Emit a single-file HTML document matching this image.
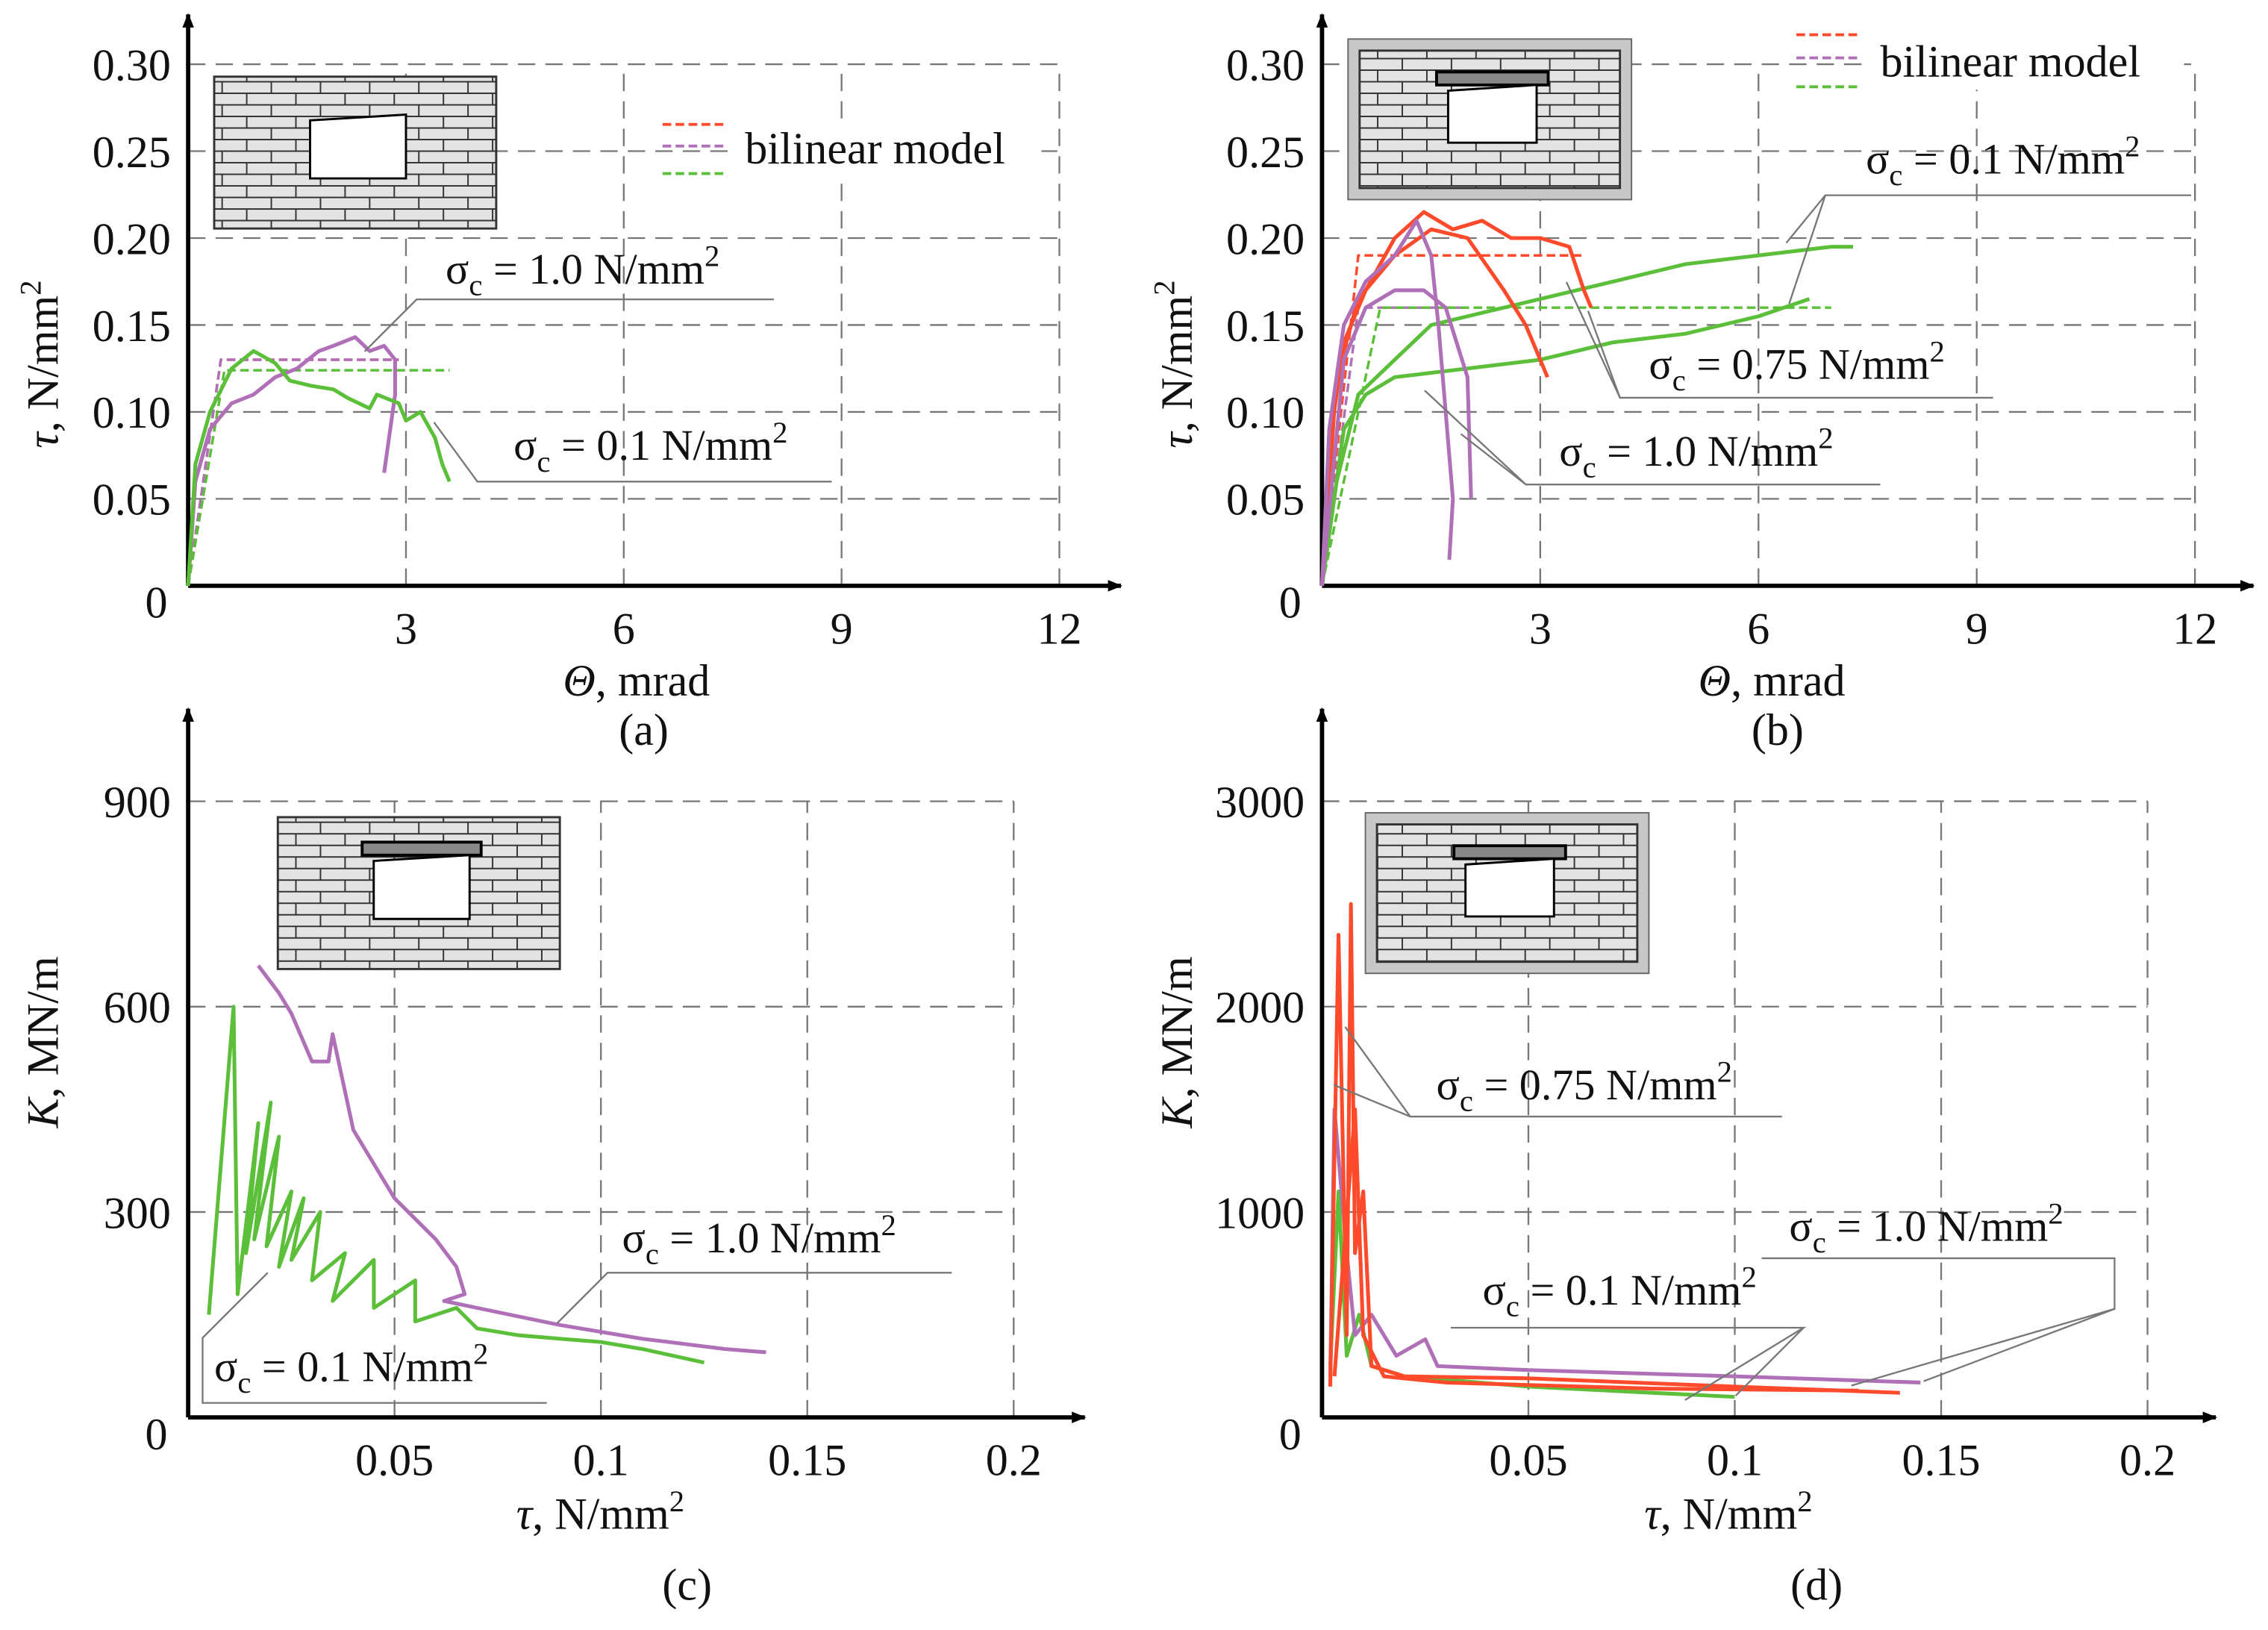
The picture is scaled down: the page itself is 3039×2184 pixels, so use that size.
<!DOCTYPE html>
<html><head><meta charset="utf-8"><style>
html,body{margin:0;padding:0;background:#fff}
svg{display:block}
text{font-family:"Liberation Serif",serif;fill:#111}
</style></head><body>
<svg id="fig" width="3039" height="2184" viewBox="0 0 1568 1127" xmlns="http://www.w3.org/2000/svg">
<defs>
<marker id="arr" viewBox="0 0 10 10" refX="9" refY="5" markerWidth="10" markerHeight="10" markerUnits="userSpaceOnUse" orient="auto"><path d="M0,1 L10,5 L0,9 Z" fill="#000"/></marker>
<pattern id="brick" width="34" height="16" patternUnits="userSpaceOnUse">
<rect width="34" height="16" fill="#e3e3e3"/>
<path d="M0,0.5H34M0,8.5H34M0.5,0V8M17.5,8V16" stroke="#333" stroke-width="1" fill="none"/>
</pattern>
</defs>
<g id="layer"></g>
</svg>
<script>
// ---------- data ----------
const aTicksX=[3,6,9,12];
const aTicksY=[0.05,0.10,0.15,0.20,0.25,0.30];
const aTickLabelsY=["0.05","0.10","0.15","0.20","0.25","0.30"];
const aPurple=[[0,0],[0.1,0.06],[0.3,0.09],[0.6,0.105],[0.9,0.11],[1.2,0.12],[1.5,0.125],[1.8,0.135],[2.0,0.138],[2.3,0.143],[2.5,0.135],[2.7,0.138],[2.85,0.13],[2.85,0.11],[2.7,0.065]];
const aGreen=[[0,0],[0.1,0.07],[0.3,0.1],[0.6,0.125],[0.9,0.135],[1.2,0.128],[1.4,0.118],[1.7,0.115],[2.0,0.113],[2.2,0.108],[2.5,0.102],[2.6,0.11],[2.9,0.105],[3.0,0.095],[3.2,0.1],[3.4,0.085],[3.5,0.07],[3.6,0.06]];
const aBiRed=[[0,0],[0.45,0.13],[2.9,0.13]];
const aBiPurple=[[0,0],[0.45,0.13],[2.9,0.13]];
const aBiGreen=[[0,0],[0.5,0.124],[3.6,0.124]];

const bRed1=[[0,0],[0.1,0.08],[0.3,0.14],[0.6,0.17],[1.0,0.2],[1.4,0.215],[1.8,0.205],[2.2,0.21],[2.6,0.2],[3.0,0.2],[3.4,0.195],[3.6,0.17],[3.7,0.16]];
const bRed2=[[0,0],[0.2,0.12],[0.5,0.165],[1.0,0.19],[1.5,0.205],[2.0,0.2],[2.5,0.17],[2.8,0.15],[3.0,0.13],[3.1,0.12]];
const bPurple1=[[0,0],[0.1,0.09],[0.3,0.15],[0.6,0.175],[1.0,0.19],[1.3,0.21],[1.5,0.19],[1.6,0.15],[1.7,0.1],[1.8,0.05],[1.75,0.015]];
const bPurple2=[[0,0],[0.3,0.13],[0.6,0.16],[1.0,0.17],[1.4,0.17],[1.7,0.16],[2.0,0.12],[2.05,0.05]];
const bGreen1=[[0,0],[0.2,0.06],[0.5,0.11],[1.0,0.13],[1.5,0.15],[2.0,0.155],[3,0.165],[4,0.175],[5,0.185],[6,0.19],[7,0.195],[7.3,0.195]];
const bGreen2=[[0,0],[0.3,0.09],[0.6,0.11],[1.0,0.12],[2,0.125],[3,0.13],[4,0.14],[5,0.145],[6,0.155],[6.7,0.165]];
const bBiRed=[[0,0],[0.5,0.19],[3.6,0.19]];
const bBiPurple=[[0,0],[0.5,0.16],[2.0,0.16]];
const bBiGreen=[[0,0],[0.8,0.16],[7,0.16]];

const cTicksX=[0.05,0.1,0.15,0.2];
const cTickLabelsX=["0.05","0.1","0.15","0.2"];
const cTicksY=[300,600,900];
const cPurple=[[0.017,660],[0.022,620],[0.025,590],[0.03,520],[0.034,520],[0.035,560],[0.04,420],[0.05,320],[0.06,260],[0.065,220],[0.067,180],[0.062,170],[0.07,160],[0.09,135],[0.11,115],[0.13,100],[0.14,95]];
const cGreen=[[0.005,150],[0.011,600],[0.012,180],[0.017,430],[0.014,240],[0.02,460],[0.016,260],[0.022,410],[0.019,250],[0.025,330],[0.022,220],[0.028,320],[0.025,230],[0.032,300],[0.03,200],[0.038,240],[0.035,170],[0.045,230],[0.045,160],[0.055,200],[0.055,140],[0.065,160],[0.07,130],[0.08,120],[0.09,115],[0.1,110],[0.11,100],[0.125,80]];

const dTicksY=[1000,2000,3000];
const dRed1=[[0.002,150],[0.004,2350],[0.006,400],[0.007,2500],[0.008,800],[0.01,1100],[0.012,250],[0.02,200],[0.05,190],[0.1,150],[0.14,120]];
const dRed2=[[0.003,200],[0.008,1500],[0.01,400],[0.015,200],[0.03,170],[0.08,140],[0.13,130]];
const dPurple=[[0.002,200],[0.003,1500],[0.006,800],[0.008,400],[0.012,500],[0.018,300],[0.025,380],[0.028,250],[0.05,230],[0.1,200],[0.145,170]];
const dGreen=[[0.002,250],[0.004,1100],[0.006,300],[0.009,500],[0.012,250],[0.02,200],[0.05,150],[0.08,120],[0.1,100]];

// ---------- drawing ----------
const NS="http://www.w3.org/2000/svg";
const L=document.getElementById('layer');
function el(tag,attrs,parent){const e=document.createElementNS(NS,tag);for(const k in attrs)e.setAttribute(k,attrs[k]);(parent||L).appendChild(e);return e;}
function txt(x,y,s,size,anchor,name){const t=el('text',{x:x,y:y,'font-size':size,'text-anchor':anchor||'middle'});t.textContent=s;


return t;}
const RED="#ff4b2b",PUR="#b070b8",GRN="#5bbf3a";

function panel(o){
 const sx=v=>o.x0+(v-o.xmin)*o.pxX, sy=v=>o.y0-v*o.pxY;
 const g=el('g',{});
 
 
 o.xt.forEach(v=>{const l=el('line',{x1:sx(v),x2:sx(v),y1:o.y0,y2:sy(o.yt[o.yt.length-1]),stroke:'#777','stroke-width':1.2,'stroke-dasharray':'12,7'},g);
  });
 o.yt.forEach(v=>{const l=el('line',{x1:o.x0,x2:sx(o.xt[o.xt.length-1]),y1:sy(v),y2:sy(v),stroke:'#777','stroke-width':1.2,'stroke-dasharray':'12,7'},g);
  });
 const xa=el('line',{x1:o.x0,y1:o.y0,x2:o.xEnd,y2:o.y0,stroke:'#000','stroke-width':3,'marker-end':'url(#arr)'},g);
 
 const ya=el('line',{x1:o.x0,y1:o.y0,x2:o.x0,y2:o.yTop,stroke:'#000','stroke-width':3,'marker-end':'url(#arr)'},g);
 
 o.xt.forEach((v,i)=>txt(sx(v),o.y0+40,o.xl[i],31,'middle','x-tick-label'));
 o.yt.forEach((v,i)=>txt(o.x0-12,sy(v)+11,o.yl[i],31,'end','y-tick-label'));
 txt(o.x0-22,o.y0+22,'0',31,'middle','y-tick-label');
 return {sx,sy,g};
}
function series(P,pts,color,dashed,name){
 const d=pts.map((p,i)=>(i?'L':'M')+P.sx(p[0]).toFixed(1)+','+P.sy(p[1]).toFixed(1)).join(' ');
 const p=el('path',{d:d,fill:'none',stroke:color,'stroke-width':dashed?1.8:2.6,'stroke-dasharray':dashed?'6,3':'none','stroke-linejoin':'round'},P.g);
 
 
}
function wall(x,y,w,h,lintel,frame,name){
 const g=el('g',{});
 
 
 if(frame) el('rect',{x:x-8,y:y-8,width:w+16,height:h+16,fill:'#c8c8c8',stroke:'#666'},g);
 el('rect',{x:x,y:y,width:w,height:h,fill:'url(#brick)',stroke:'#333','stroke-width':1.5},g);
 const ox=x+w*0.34,oy=y+h*0.25,ow=w*0.34,oh=h*0.42;
 if(lintel) el('rect',{x:ox-8,y:oy-9,width:ow+16,height:9,fill:'#888',stroke:'#000','stroke-width':2},g);
 el('path',{d:`M${ox},${oy+4} L${ox+ow},${oy} L${ox+ow},${oy+oh} L${ox},${oy+oh} Z`,fill:'#fff',stroke:'#000','stroke-width':1.5},g);
}
function leader(pts){const p=el('polyline',{points:pts.map(q=>q.join(',')).join(' '),fill:'none',stroke:'#777','stroke-width':1.2});
 }
function sig(x,y,val,name){
 const t=el('text',{x:x,y:y,'font-size':30});
 
 
 t.innerHTML='σ<tspan font-size="21" dy="8">c</tspan><tspan dy="-8"> = '+val+' N/mm</tspan><tspan font-size="21" dy="-12">2</tspan>';
}
function legendBg(x,y,w,h){const r=el('rect',{x:x,y:y,width:w,height:h,fill:'#fff'});}

// Panel a
const A=panel({name:'panel-a',x0:130,y0:405,xmin:0,pxX:50.2,pxY:1202,xt:aTicksX,xl:aTicksX.map(String),yt:aTicksY,yl:aTickLabelsY,xEnd:775,yTop:10});
wall(148,53,195,105,false,false,'wall-icon-a');
series(A,aBiRed,RED,true,'bilinear-red-a');series(A,aBiPurple,PUR,true,'bilinear-purple-a');series(A,aBiGreen,GRN,true,'bilinear-green-a');
series(A,aPurple,PUR,false,'series-sigma-1.0-a');series(A,aGreen,GRN,false,'series-sigma-0.1-a');
legendBg(505,82,215,40);
[[RED,86],[PUR,101],[GRN,120]].forEach(c=>{const l=el('line',{x1:458,x2:502,y1:c[1],y2:c[1],stroke:c[0],'stroke-width':2,'stroke-dasharray':'6,3'});});
txt(515,113,'bilinear model',31,'start','legend-label');
sig(308,196,'1.0','annotation-sigma-1.0-a');leader([[535,207],[288,207],[252,243]]);
sig(355,318,'0.1','annotation-sigma-0.1-a');leader([[575,333],[330,333],[300,292]]);
const ta=el('text',{x:20,y:290,'font-size':31,transform:'rotate(-90 40 290)'});
ta.innerHTML='<tspan font-style="italic">τ</tspan>,  N/mm<tspan font-size="21" dy="-12">2</tspan>';
const xa1=el('text',{x:440,y:481,'font-size':31,'text-anchor':'middle'});xa1.innerHTML='<tspan font-style="italic">Θ</tspan>,  mrad';
txt(445,515,'(a)',31,'middle','caption-a');

// Panel b
const B=panel({name:'panel-b',x0:914,y0:405,xmin:0,pxX:50.3,pxY:1202,xt:aTicksX,xl:aTicksX.map(String),yt:aTicksY,yl:aTickLabelsY,xEnd:1558,yTop:10});
wall(940,35,180,95,true,true,'wall-icon-b');
series(B,bBiRed,RED,true,'bilinear-red-b');series(B,bBiPurple,PUR,true,'bilinear-purple-b');series(B,bBiGreen,GRN,true,'bilinear-green-b');
series(B,bGreen1,GRN,false,'series-sigma-0.1-b');series(B,bGreen2,GRN,false,'series-sigma-0.1-b2');
series(B,bRed1,RED,false,'series-sigma-0.75-b');series(B,bRed2,RED,false,'series-sigma-0.75-b2');
series(B,bPurple1,PUR,false,'series-sigma-1.0-b');series(B,bPurple2,PUR,false,'series-sigma-1.0-b2');
legendBg(1290,22,220,40);
[[RED,24],[PUR,40],[GRN,60]].forEach(c=>{const l=el('line',{x1:1242,x2:1286,y1:c[1],y2:c[1],stroke:c[0],'stroke-width':2,'stroke-dasharray':'6,3'});});
txt(1300,53,'bilinear model',31,'start','legend-label');
sig(1290,120,'0.1','annotation-sigma-0.1-b');leader([[1515,135],[1262,135],[1235,168]]);leader([[1262,135],[1237,210]]);
sig(1140,262,'0.75','annotation-sigma-0.75-b');leader([[1378,275],[1120,275],[1098,215]]);leader([[1120,275],[1083,195]]);
sig(1078,322,'1.0','annotation-sigma-1.0-b');leader([[1300,335],[1055,335],[985,270]]);leader([[1055,335],[1010,300]]);
const tb=el('text',{x:804,y:290,'font-size':31,transform:'rotate(-90 824 290)'});
tb.innerHTML='<tspan font-style="italic">τ</tspan>,  N/mm<tspan font-size="21" dy="-12">2</tspan>';
const xb=el('text',{x:1225,y:481,'font-size':31,'text-anchor':'middle'});xb.innerHTML='<tspan font-style="italic">Θ</tspan>,  mrad';
txt(1229,515,'(b)',31,'middle','caption-b');

// Panel c
const C=panel({name:'panel-c',x0:130,y0:980,xmin:0,pxX:2854,pxY:0.4733,xt:cTicksX,xl:cTickLabelsX,yt:cTicksY,yl:cTicksY.map(String),xEnd:750,yTop:490});
wall(192,565,195,105,true,false,'wall-icon-c');
series(C,cGreen,GRN,false,'series-sigma-0.1-c');series(C,cPurple,PUR,false,'series-sigma-1.0-c');
sig(430,866,'1.0','annotation-sigma-1.0-c');leader([[658,880],[420,880],[385,915]]);
sig(148,955,'0.1','annotation-sigma-0.1-c');leader([[378,970],[140,970],[140,925],[185,880]]);
const tc=el('text',{x:20,y:760,'font-size':31,transform:'rotate(-90 40 760)'});
tc.innerHTML='<tspan font-style="italic">K</tspan>,  MN/m';
const xc=el('text',{x:415,y:1057,'font-size':31,'text-anchor':'middle'});xc.innerHTML='<tspan font-style="italic">τ</tspan>,  N/mm<tspan font-size="21" dy="-12">2</tspan>';
txt(475,1106,'(c)',31,'middle','caption-c');

// Panel d
const D=panel({name:'panel-d',x0:914,y0:980,xmin:0,pxX:2854,pxY:0.142,xt:cTicksX,xl:cTickLabelsX,yt:dTicksY,yl:dTicksY.map(String),xEnd:1532,yTop:490});
wall(952,570,180,95,true,true,'wall-icon-d');
series(D,dGreen,GRN,false,'series-sigma-0.1-d');series(D,dPurple,PUR,false,'series-sigma-1.0-d');
series(D,dRed1,RED,false,'series-sigma-0.75-d');series(D,dRed2,RED,false,'series-sigma-0.75-d2');
sig(993,760,'0.75','annotation-sigma-0.75-d');leader([[1232,772],[975,772],[930,710]]);leader([[975,772],[922,750]]);
sig(1237,858,'1.0','annotation-sigma-1.0-d');leader([[1218,870],[1462,870],[1462,905],[1280,958]]);leader([[1462,905],[1330,955]]);
sig(1025,902,'0.1','annotation-sigma-0.1-d');leader([[1003,918],[1247,918],[1165,968]]);leader([[1247,918],[1200,965]]);
const td=el('text',{x:804,y:760,'font-size':31,transform:'rotate(-90 824 760)'});
td.innerHTML='<tspan font-style="italic">K</tspan>,  MN/m';
const xd=el('text',{x:1195,y:1057,'font-size':31,'text-anchor':'middle'});xd.innerHTML='<tspan font-style="italic">τ</tspan>,  N/mm<tspan font-size="21" dy="-12">2</tspan>';
txt(1256,1106,'(d)',31,'middle','caption-d');
</script>
</body></html>
